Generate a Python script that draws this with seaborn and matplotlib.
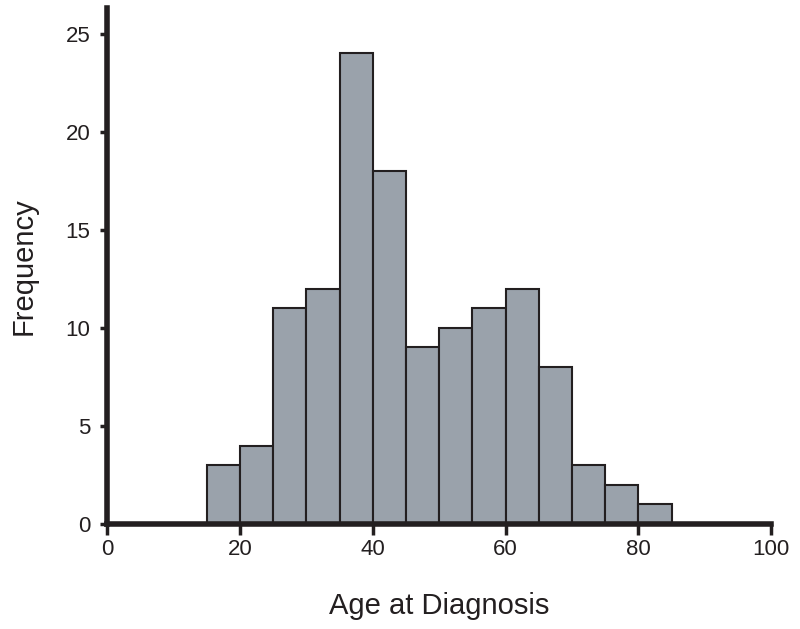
import numpy as np
import matplotlib
matplotlib.use("Agg")
import matplotlib.pyplot as plt
import seaborn as sns

# histogram bins (age at diagnosis, 5-year bins) and counts
bin_edges = [15, 20, 25, 30, 35, 40, 45, 50, 55, 60, 65, 70, 75, 80, 85]
counts = [3, 4, 11, 12, 24, 18, 9, 10, 11, 12, 8, 3, 2, 1]
x_ticks = [0, 20, 40, 60, 80, 100]
y_ticks = [0, 5, 10, 15, 20, 25]

sns.set_style("white")
plt.rcParams['font.family'] = ['Liberation Sans', 'DejaVu Sans']

bin_centers = [(a + b) / 2 for a, b in zip(bin_edges[:-1], bin_edges[1:])]

fig = plt.figure(figsize=(8, 6.29), dpi=100)
ax = fig.add_axes([0.134, 0.167, 0.83, 0.82])

sns.histplot(x=bin_centers, weights=counts, bins=bin_edges, ax=ax,
             color='#9aa2ab', alpha=1, edgecolor='#231f20', linewidth=1.5)

ax.set_xlim(0, 100)
ax.set_ylim(0, 26.3)
ax.set_xticks(x_ticks)
ax.set_yticks(y_ticks)
ax.tick_params(axis='both', direction='out', bottom=True, left=True,
               width=2.5, color='#231f20', labelsize=16, labelcolor='#231f20')
ax.tick_params(axis='x', length=8, pad=3)
ax.tick_params(axis='y', length=5, pad=7)

for side in ['top', 'right']:
    ax.spines[side].set_visible(False)
for side in ['left', 'bottom']:
    ax.spines[side].set_linewidth(4)
    ax.spines[side].set_color('#231f20')
    ax.spines[side].set_zorder(5)

ax.set_xlabel('Age at Diagnosis', fontsize=21, color='#231f20', labelpad=23)
ax.set_ylabel('Frequency', fontsize=21, color='#231f20', labelpad=20)

fig.savefig('out.png', dpi=100)
